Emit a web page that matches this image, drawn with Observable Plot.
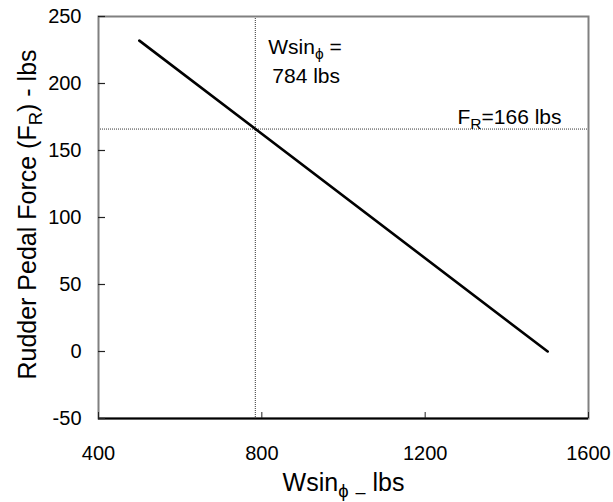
<!DOCTYPE html>
<html><head><meta charset="utf-8">
<script src="https://cdn.jsdelivr.net/npm/d3@7"></script>
<script src="https://cdn.jsdelivr.net/npm/@observablehq/plot@0.6"></script>
<style>body{margin:0;background:#fff}</style>
</head><body><div id="chart"></div>
<script>
const xTicks = [400, 800, 1200, 1600];
const yTicks = [-50, 0, 50, 100, 150, 200, 250];
const forceX = [500, 1500];
const forceY = [232, 0];
const critX = [784];
const critY = [166];
const noteText = ["Wsin{ϕ} =", "784 lbs", "F{R}=166 lbs"];
const noteX = [784, 784, 1600];
const noteY = [222, 200.5, 166];
const xTitle = "Wsin{ϕ} [–] lbs";
const yTitle = "Rudder Pedal Force (F{R}) - lbs";

const font = "'Liberation Sans', Arial, sans-serif";
const forceData = forceX.map((x, i) => ({x, y: forceY[i]}));
const plain = d => String(d);

const chart = Plot.plot({
  width: 613, height: 502,
  marginLeft: 98, marginRight: 25, marginTop: 16, marginBottom: 84,
  style: {fontFamily: font, background: "white", color: "black", overflow: "visible"},
  x: {domain: [400, 1600]},
  y: {domain: [-50, 250]},
  marks: [
    Plot.ruleX(critX, {stroke: "#333", strokeWidth: 1, strokeDasharray: "1,1"}),
    Plot.ruleY(critY, {stroke: "#333", strokeWidth: 1, strokeDasharray: "1,1"}),
    Plot.line(forceData, {x: "x", y: "y", stroke: "black", strokeWidth: 2.6}),
    Plot.frame({stroke: "#808080", strokeWidth: 2}),
    Plot.ruleY([yTicks[0]], {stroke: "black", strokeWidth: 2}),
    Plot.axisX(xTicks, {tickSize: -6, tickFormat: () => "", label: null, stroke: "#222"}),
    Plot.axisX(xTicks, {tickSize: 0, tickPadding: 27, fontSize: 20, label: null, tickFormat: plain}),
    Plot.axisY(yTicks, {tickSize: -7, tickFormat: () => "", label: null, stroke: "#222", strokeWidth: 1.2}),
    Plot.axisY(yTicks, {tickSize: 0, tickPadding: 17, fontSize: 20, label: null, tickFormat: plain}),
    Plot.text([noteText[0]], {text: d => d, x: noteX[0], y: noteY[0], dx: 13, textAnchor: "start", lineAnchor: "bottom", fontSize: 21}),
    Plot.text([noteText[1]], {text: d => d, x: noteX[1], y: noteY[1], dx: 17, textAnchor: "start", lineAnchor: "bottom", fontSize: 21}),
    Plot.text([noteText[2]], {text: d => d, x: noteX[2], y: noteY[2], dx: -27, dy: -5, textAnchor: "end", lineAnchor: "bottom", fontSize: 21}),
    Plot.text([xTitle], {text: d => d, frameAnchor: "bottom", textAnchor: "middle", dy: 72, lineAnchor: "bottom", fontSize: 25}),
    Plot.text([yTitle], {text: d => d, frameAnchor: "left", textAnchor: "middle", rotate: -90, dx: -63, dy: -3, lineAnchor: "bottom", fontSize: 25})
  ]
});

document.getElementById("chart").appendChild(chart);

function richText(svg) {
  d3.select(svg).selectAll("text").each(function() {
    const s = this.textContent;
    if (!/[{\[]/.test(s)) return;
    const base = parseFloat(getComputedStyle(this).fontSize);
    const parts = s.split(/(\{[^}]*\}|\[[^\]]*\])/).filter(p => p !== "");
    const sel = d3.select(this);
    sel.text(null);
    let shift = 0;
    for (const p of parts) {
      let target = 0, content = p, size = null;
      if (p[0] === "{") { target = base * 0.24; content = p.slice(1, -1); size = base * 0.74; }
      else if (p[0] === "[") { target = base * 0.3; content = p.slice(1, -1); size = base * 0.72; }
      const t = sel.append("tspan").attr("dy", target - shift).text(content);
      if (size) t.attr("font-size", size);
      shift = target;
    }
  });
}
richText(chart);
</script>
</body></html>
